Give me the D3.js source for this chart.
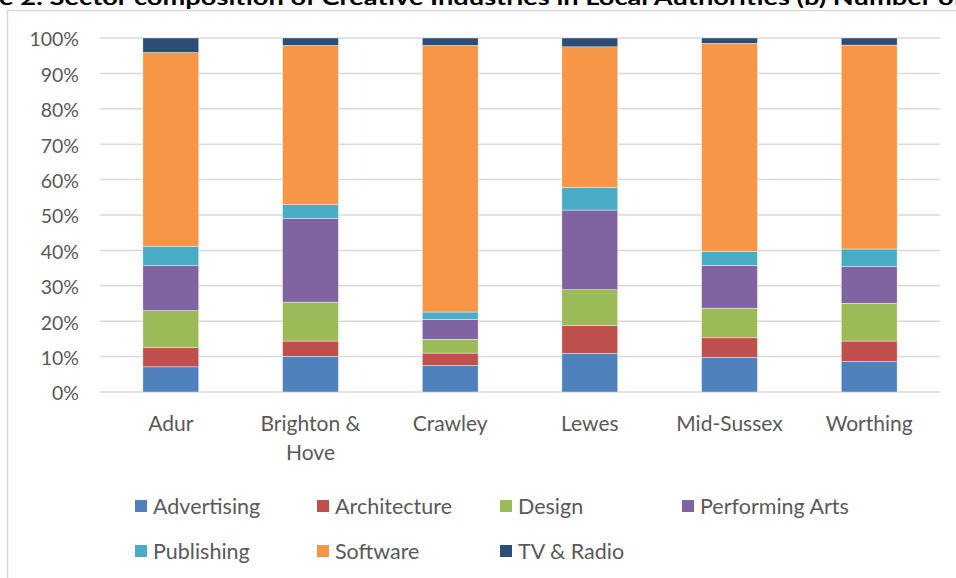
<!DOCTYPE html>
<html>
<head>
<meta charset="utf-8">
<script src="https://cdn.jsdelivr.net/npm/d3@7"></script>
<style>
   body { margin: 0; background: white; overflow: hidden; }
   text { font-family: Lato, "Open Sans", sans-serif; }
</style>
</head>
<body>
<script>
// areas along the x axis
var areas = ["Adur", "Brighton & Hove", "Crawley", "Lewes", "Mid-Sussex", "Worthing"]
var areaLines = [["Adur"], ["Brighton &", "Hove"], ["Crawley"], ["Lewes"], ["Mid-Sussex"], ["Worthing"]]

// share of businesses per sector (%)
var sectors = ["Advertising", "Architecture", "Design", "Performing Arts", "Publishing", "Software", "TV & Radio"]
var advertising = [7.1, 10.1, 7.5, 10.9, 9.8, 8.6]
var architecture = [5.4, 4.3, 3.5, 7.8, 5.5, 5.8]
var design = [10.5, 11.0, 3.9, 10.2, 8.4, 10.7]
var performingArts = [12.7, 23.6, 5.6, 22.5, 12.1, 10.3]
var publishing = [5.5, 3.9, 2.1, 6.4, 3.9, 5.0]
var software = [54.7, 45.0, 75.3, 39.7, 58.8, 57.6]
var tvRadio = [4.1, 2.1, 2.1, 2.5, 1.5, 2.0]

var yTicks = [0, 0.1, 0.2, 0.3, 0.4, 0.5, 0.6, 0.7, 0.8, 0.9, 1]
var colours = ["#4f81bd", "#c0504d", "#9bbb59", "#8064a2", "#4bacc6", "#f79646", "#2c4d75"]

var series = [advertising, architecture, design, performingArts, publishing, software, tvRadio]
var table = areas.map(function (a, i) {
   var row = { area: a }
   sectors.forEach(function (s, j) { row[s] = series[j][i] })
   return row
})

var fieldWidth = 956
var fieldHeight = 578

var svg = d3.select("body")
   .append("svg")
   .attr("width", fieldWidth)
   .attr("height", fieldHeight)

// title, cut off by the top of the picture
svg.append("text")
   .attr("x", -1)
   .attr("y", 5)
   .attr("textLength", 964)
   .attr("lengthAdjust", "spacingAndGlyphs")
   .style("font-weight", "bold")
   .style("font-size", "20px")
   .style("fill", "#000")
   .text("e 2: Sector composition of Creative Industries in Local Authorities (b) Number of")

// chart frame
svg.append("rect")
   .attr("x", 7.5)
   .attr("y", 10.5)
   .attr("width", 1000)
   .attr("height", 600)
   .style("fill", "none")
   .style("stroke", "#d9d9d9")
   .style("stroke-width", 1.5)

var x = d3.scaleBand()
   .domain(areas)
   .range([101, 939])

var y = d3.scaleLinear()
   .domain([0, 1])
   .range([392, 38])

// gridlines
svg.append("g")
   .selectAll("line")
   .data(yTicks)
   .enter()
   .append("line")
   .attr("x1", 100)
   .attr("x2", 940)
   .attr("y1", function (d) { return y(d) })
   .attr("y2", function (d) { return y(d) })
   .style("stroke", "#d9d9d9")
   .style("stroke-width", 1.5)

var yAxis = svg.append("g")
   .attr("transform", "translate(79,0)")
   .call(d3.axisLeft(y).tickValues(yTicks).tickFormat(d3.format(".0%")).tickSize(0).tickPadding(0))
yAxis.select(".domain").remove()
yAxis.selectAll("text")
   .attr("dy", "0.4em")
   .style("font-family", "Lato, sans-serif")
   .style("font-size", "19.5px")
   .style("fill", "#595959")

var stacked = d3.stack()
   .keys(sectors)
   .offset(d3.stackOffsetExpand)(table)

var barWidth = x.bandwidth() * 0.4

svg.append("g")
   .selectAll("g")
   .data(stacked)
   .enter()
   .append("g")
   .style("fill", function (d, i) { return colours[i] })
   .selectAll("rect")
   .data(function (d) { return d })
   .enter()
   .append("rect")
   .attr("x", function (d) { return x(d.data.area) + (x.bandwidth() - barWidth) / 2 })
   .attr("y", function (d) { return y(d[1]) })
   .attr("width", barWidth)
   .attr("height", function (d) { return y(d[0]) - y(d[1]) })
   .style("stroke", "#ffffff")
   .style("stroke-width", 0.4)

// category labels
var cats = svg.append("g")
   .selectAll("text")
   .data(areas)
   .enter()
   .append("text")
   .attr("x", function (d) { return x(d) + x.bandwidth() / 2 })
   .attr("y", 431)
   .attr("text-anchor", "middle")
   .style("font-size", "21px")
   .style("fill", "#595959")
cats.selectAll("tspan")
   .data(function (d, i) { return areaLines[i] })
   .enter()
   .append("tspan")
   .attr("x", function () { return d3.select(this.parentNode).attr("x") })
   .attr("dy", function (d, i) { return i == 0 ? 0 : 29 })
   .text(function (d) { return d })

// legend
var legendX = [135, 317, 500, 682]
var legendY = [506, 551]
var legend = svg.append("g")
   .selectAll("g")
   .data(sectors)
   .enter()
   .append("g")
   .attr("transform", function (d, i) {
      return "translate(" + legendX[i % 4] + "," + legendY[Math.floor(i / 4)] + ")"
   })
legend.append("rect")
   .attr("x", 0)
   .attr("y", -6)
   .attr("width", 12)
   .attr("height", 12)
   .style("fill", function (d, i) { return colours[i] })
legend.append("text")
   .attr("x", 18)
   .attr("y", 0)
   .attr("dy", "0.35em")
   .style("font-size", "21.5px")
   .style("fill", "#595959")
   .text(function (d) { return d })
</script>
</body>
</html>
